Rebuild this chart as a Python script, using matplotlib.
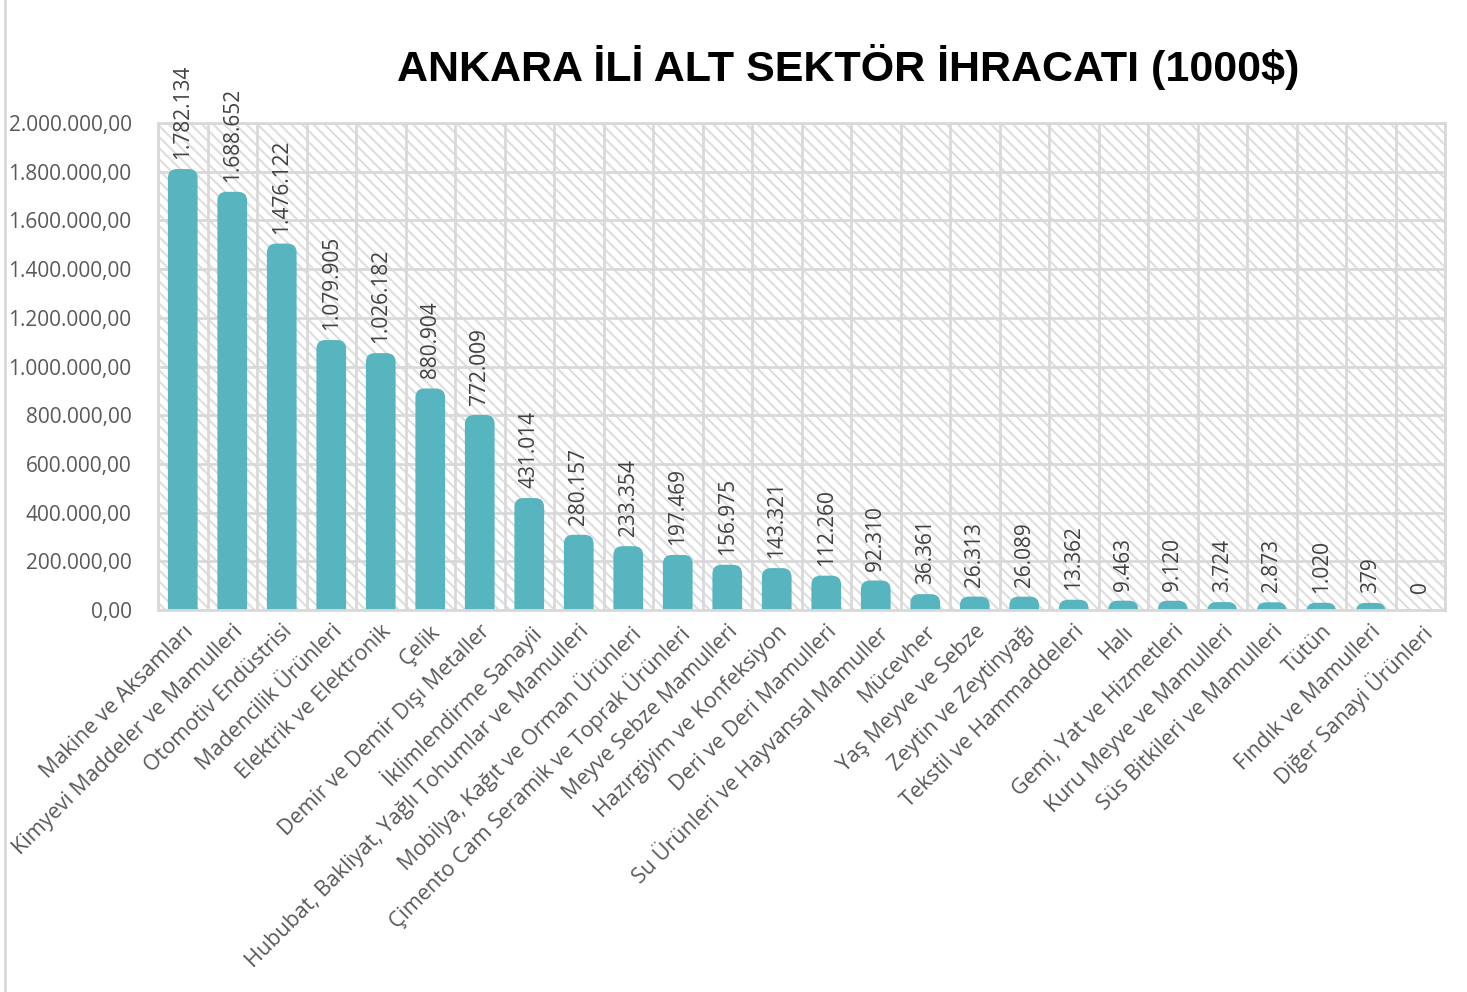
import matplotlib
matplotlib.use('Agg')
import matplotlib.pyplot as plt
from matplotlib.patches import FancyBboxPatch, Rectangle
from matplotlib.lines import Line2D
from matplotlib.ticker import MultipleLocator, FuncFormatter
import numpy as np

sectors = ['Makine ve Aksamları', 'Kimyevi Maddeler ve Mamulleri', 'Otomotiv Endüstrisi',
           'Madencilik Ürünleri', 'Elektrik ve Elektronik', 'Çelik',
           'Demir ve Demir Dışı Metaller', 'İklimlendirme Sanayii',
           'Hububat, Bakliyat, Yağlı Tohumlar ve Mamulleri', 'Mobilya, Kağıt ve Orman Ürünleri',
           'Çimento Cam Seramik ve Toprak Ürünleri', 'Meyve Sebze Mamulleri',
           'Hazırgiyim ve Konfeksiyon', 'Deri ve Deri Mamulleri',
           'Su Ürünleri ve Hayvansal Mamuller', 'Mücevher', 'Yaş Meyve ve Sebze',
           'Zeytin ve Zeytinyağı', 'Tekstil ve Hammaddeleri', 'Halı', 'Gemi, Yat ve Hizmetleri',
           'Kuru Meyve ve Mamulleri', 'Süs Bitkileri ve Mamulleri', 'Tütün',
           'Fındık ve Mamulleri', 'Diğer Sanayi Ürünleri']
exports = [1782134, 1688652, 1476122, 1079905, 1026182, 880904, 772009, 431014,
           280157, 233354, 197469, 156975, 143321, 112260, 92310, 36361, 26313,
           26089, 13362, 9463, 9120, 3724, 2873, 1020, 379, 0]

title = 'ANKARA İLİ ALT SEKTÖR İHRACATI (1000$)'

bar_color = '#57B5C0'
grid_color = '#D9D9D9'

plt.rcParams['font.family'] = ['Open Sans', 'DejaVu Sans']
plt.rcParams['hatch.linewidth'] = 1.5

fig = plt.figure(figsize=(14.67, 9.92), dpi=100)
ax = fig.add_axes([158/1467, 1 - 610/992, (1445-158)/1467, (610-123)/992])

n = len(sectors)
xs = np.arange(n)
ax.set_xlim(-0.5, n - 0.5)
ax.set_ylim(0, 2000000)

# hatched plot area
bg = Rectangle((0, 0), 1, 1, transform=ax.transAxes, facecolor='white',
               edgecolor='#DEDEDE', hatch='\\\\\\', linewidth=0, zorder=0.1)
ax.add_patch(bg)

# rounded bars: size of the cap in pixels -> data units
bbox = ax.get_window_extent()
x_per_px = n / bbox.width
y_per_px = 2000000 / bbox.height
radius_px = 9
r = radius_px * x_per_px
cap = radius_px * y_per_px
aspect = y_per_px / x_per_px
width = 0.6

for x, v in zip(xs, exports):
    if v > 0:
        p = FancyBboxPatch((x - width/2, -cap), width, v + 2*cap - 2*y_per_px,
                           boxstyle='round,pad=0,rounding_size=%f' % r,
                           mutation_aspect=aspect, facecolor=bar_color,
                           edgecolor='none', zorder=2)
        ax.add_patch(p)
    ax.annotate('{:,}'.format(v).replace(',', '.'), (x, v), xytext=(0, 17),
                textcoords='offset pixels', rotation=90, ha='center', va='bottom',
                fontsize=15, color='#404040', zorder=3)

ax.yaxis.set_major_locator(MultipleLocator(200000))
ax.yaxis.set_major_formatter(FuncFormatter(
    lambda v, pos: '{:,.2f}'.format(v).replace(',', 'X').replace('.', ',').replace('X', '.')))
ax.set_xticks(xs)
ax.set_xticklabels(sectors, rotation=45, ha='right', va='top', rotation_mode='anchor')
ax.set_xticks(np.arange(-0.5, n), minor=True)

ax.tick_params(axis='both', which='both', length=0)
ax.tick_params(axis='y', labelsize=15, labelcolor='#595959', pad=19)
ax.tick_params(axis='x', labelsize=15.5, labelcolor='#595959', pad=8)

ax.set_axisbelow(True)
ax.grid(axis='y', which='major', color=grid_color, linewidth=2)
ax.grid(axis='x', which='minor', color=grid_color, linewidth=2)
for s in ax.spines.values():
    s.set_color(grid_color)
    s.set_linewidth(2)

fig.text(848/1467, 1 - 67/992, title, ha='center', va='center', fontsize=31,
         fontweight='bold', family='Liberation Sans', color='black')

fig.add_artist(Line2D([5/1467, 5/1467], [0, 1], color=grid_color, linewidth=2))

fig.savefig('out.png', dpi=100)
